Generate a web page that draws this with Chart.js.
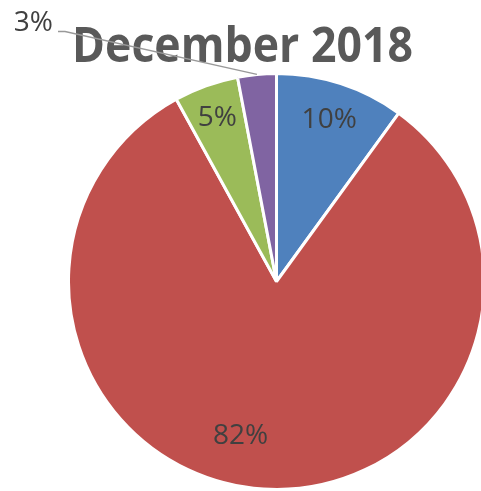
<!DOCTYPE html>
<html>
<head>
<meta charset="utf-8">
<script src="https://cdn.jsdelivr.net/npm/chart.js@4/dist/chart.umd.min.js"></script>
<style>
  html, body { margin: 0; padding: 0; background: #fff; overflow: hidden; }
  #wrap { width: 500px; height: 491px; }
</style>
</head>
<body>
<div id="wrap"><canvas id="pie" width="500" height="491"></canvas></div>
<script>
// データ
const titleText = 'December 2018';
const sliceLabels = ['A', 'B', 'C', 'D'];
const sliceValues = [10, 82, 5, 3];
const sliceColors = ['#4F81BD', '#C0504D', '#9BBB59', '#8064A2'];

// ラベル配置（半径比率・角度の補正、度）
const labelPlace = [
    { f: 0.82, da: 0 },
    { f: 0.76, da: 9.5 },
    { f: 0.84, da: 0 },
    { outside: true }
];

const labelPlugin = {
    id: 'pieLabels',
    afterDraw(chart) {
        const ctx = chart.ctx;
        const meta = chart.getDatasetMeta(0);
        const total = sliceValues.reduce((a, b) => a + b, 0);

        // タイトル
        ctx.save();
        ctx.fillStyle = '#595959';
        ctx.font = 'bold 49px "Open Sans"';
        ctx.textBaseline = 'alphabetic';
        const tw = ctx.measureText(titleText).width;
        const sx = 341 / tw;
        ctx.translate(242.5, 62);
        ctx.scale(sx, 1);
        ctx.textAlign = 'center';
        ctx.fillText(titleText, 0, 0);
        ctx.restore();

        meta.data.forEach((arc, i) => {
            const p = arc.getProps(['x', 'y', 'startAngle', 'endAngle', 'outerRadius'], true);
            const pct = Math.round(sliceValues[i] / total * 100) + '%';
            const mid = (p.startAngle + p.endAngle) / 2;
            const place = labelPlace[i];
            ctx.save();
            ctx.fillStyle = '#404040';
            ctx.font = '28px "Open Sans"';
            if (place.outside) {
                const ex = p.x + Math.cos(mid) * p.outerRadius;
                const ey = p.y + Math.sin(mid) * p.outerRadius;
                ctx.strokeStyle = '#999999';
                ctx.lineWidth = 1.3;
                ctx.beginPath();
                ctx.moveTo(ex, ey);
                ctx.lineTo(65, 31.5);
                ctx.lineTo(58, 31.5);
                ctx.stroke();
                ctx.textAlign = 'right';
                ctx.textBaseline = 'alphabetic';
                ctx.fillText(pct, 53, 31);
            } else {
                const a = mid + place.da * Math.PI / 180;
                const lx = p.x + Math.cos(a) * p.outerRadius * place.f;
                const ly = p.y + Math.sin(a) * p.outerRadius * place.f;
                ctx.textAlign = 'center';
                ctx.textBaseline = 'middle';
                ctx.fillText(pct, lx, ly + 1);
            }
            ctx.restore();
        });
    }
};

new Chart(document.getElementById('pie'), {
    type: 'pie',
    data: {
        labels: sliceLabels,
        datasets: [{
            data: sliceValues,
            backgroundColor: sliceColors,
            borderColor: '#ffffff',
            borderWidth: 3
        }]
    },
    options: {
        responsive: false,
        animation: false,
        layout: { padding: { left: 67, right: 14, top: 72, bottom: 0 } },
        plugins: {
            legend: { display: false },
            tooltip: { enabled: false },
            title: { display: false }
        }
    },
    plugins: [labelPlugin]
});
</script>
</body>
</html>
